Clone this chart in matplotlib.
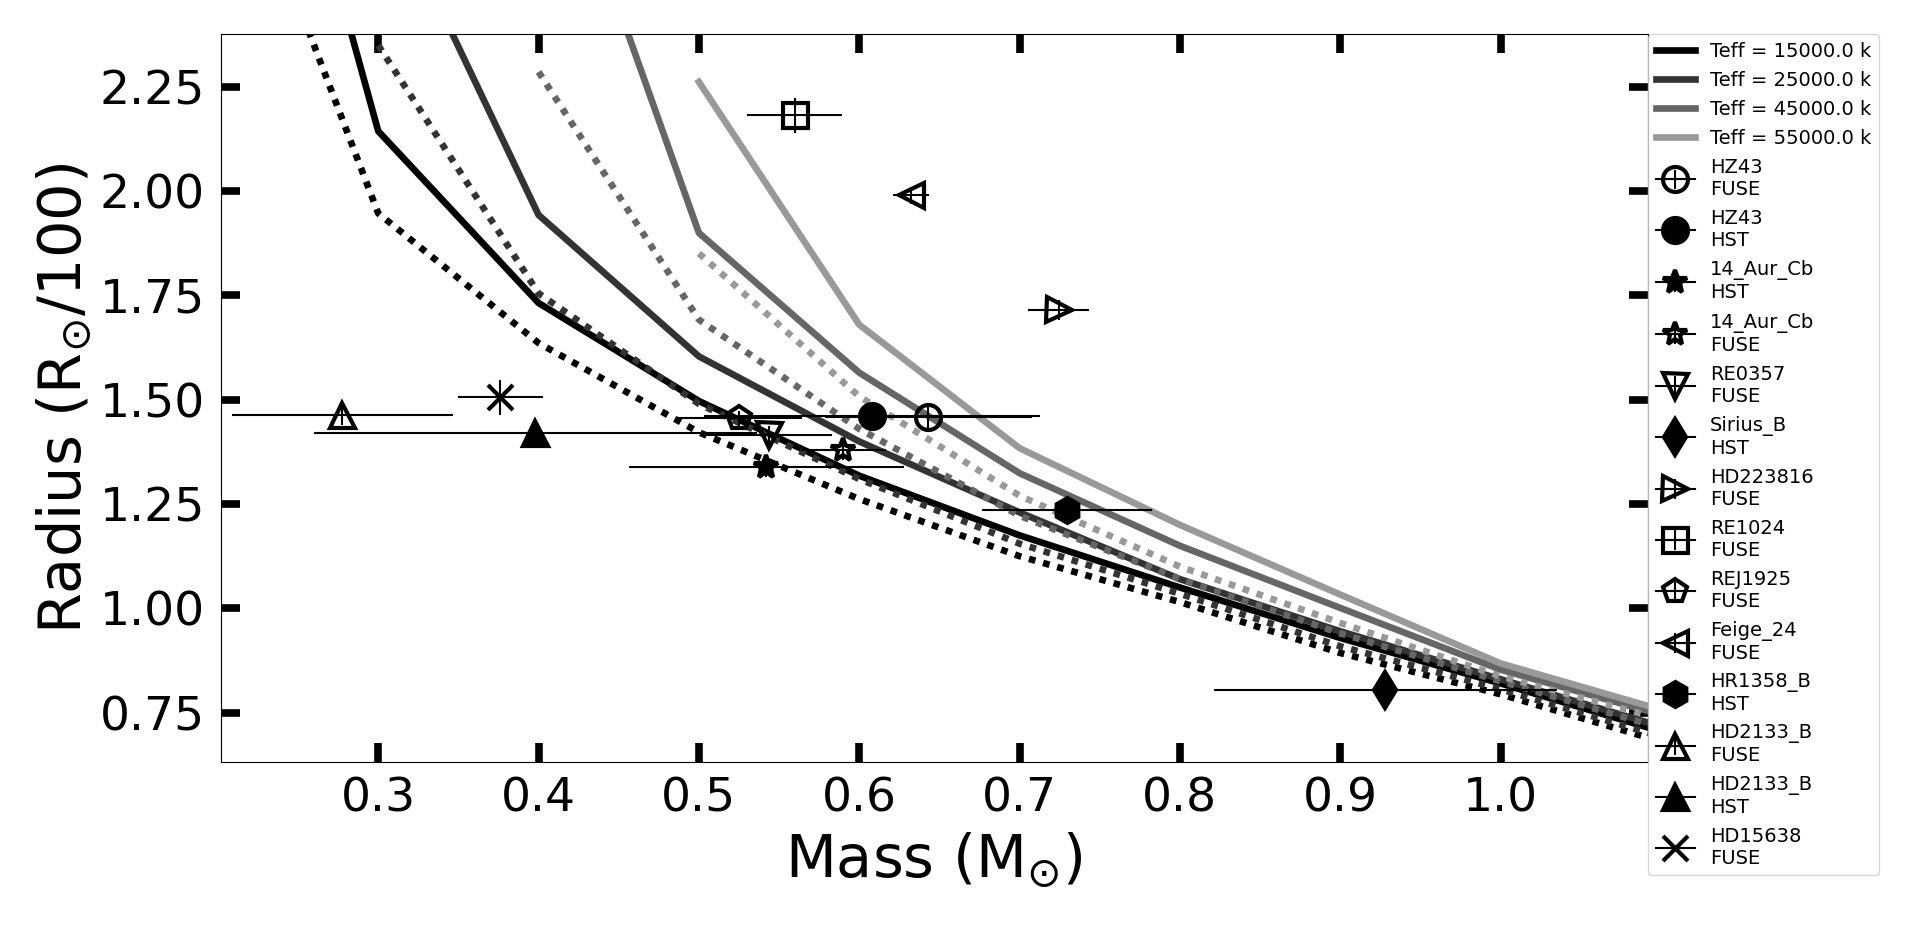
import numpy as np
import matplotlib
matplotlib.use('Agg')
import matplotlib.pyplot as plt

nan = np.nan

# ---- model mass-radius curves (mass in Msun, radius in Rsun/100) ----
mass_grid = [0.25, 0.3, 0.4, 0.5, 0.6, 0.7, 0.8, 0.9, 1.0, 1.1]
teff_values = [15000.0, 25000.0, 45000.0, 55000.0]

r15000_solid = [2.84, 2.144, 1.732, 1.497, 1.318, 1.175, 1.050, 0.929, 0.820, 0.705]
r25000_solid = [nan, 2.75, 1.943, 1.604, 1.400, 1.230, 1.070, 0.945, 0.830, 0.717]
r45000_solid = [nan, nan, 2.98, 1.900, 1.565, 1.324, 1.150, 1.001, 0.853, 0.745]
r55000_solid = [nan, nan, nan, 2.262, 1.680, 1.384, 1.200, 1.033, 0.868, 0.757]

r15000_dot = [2.45, 1.947, 1.636, 1.422, 1.262, 1.125, 1.015, 0.893, 0.794, 0.681]
r25000_dot = [nan, 2.35, 1.755, 1.490, 1.310, 1.155, 1.035, 0.909, 0.806, 0.693]
r45000_dot = [nan, nan, 2.286, 1.692, 1.430, 1.222, 1.070, 0.940, 0.825, 0.713]
r55000_dot = [nan, nan, nan, 1.851, 1.508, 1.270, 1.100, 0.965, 0.837, 0.735]

# ---- observed white dwarfs ----
star_names = ['HZ43', 'HZ43', '14_Aur_Cb', '14_Aur_Cb', 'RE0357', 'Sirius_B',
              'HD223816', 'RE1024', 'REJ1925', 'Feige_24', 'HR1358_B',
              'HD2133_B', 'HD2133_B', 'HD15638']
instruments = ['FUSE', 'HST', 'HST', 'FUSE', 'FUSE', 'HST', 'FUSE', 'FUSE',
               'FUSE', 'FUSE', 'HST', 'FUSE', 'HST', 'FUSE']
obs_mass = [0.643, 0.608, 0.542, 0.590, 0.5437, 0.928, 0.7243, 0.5598,
            0.5253, 0.6323, 0.7293, 0.2777, 0.398, 0.3762]
obs_mass_err = [0.0645, 0.105, 0.0857, 0.0265, 0.039, 0.107, 0.019, 0.0297,
                0.039, 0.011, 0.053, 0.069, 0.138, 0.0263]
obs_radius = [1.458, 1.461, 1.340, 1.379, 1.416, 0.804, 1.7155, 2.182,
              1.456, 1.990, 1.235, 1.464, 1.420, 1.5055]
obs_radius_err = [0.032, 0.030, 0.025, 0.024, 0.020, 0.020, 0.024, 0.042,
                  0.018, 0.020, 0.020, 0.024, 0.030, 0.041]
obs_markers = ['o', 'o', '*', '*', 'v', 'd', '>', 's', 'p', '<', 'h', '^', '^', 'x']
obs_filled = [False, True, True, False, False, True, False, False, False,
              False, True, False, True, True]

x_ticks = [0.3, 0.4, 0.5, 0.6, 0.7, 0.8, 0.9, 1.0]
y_ticks = [0.75, 1.00, 1.25, 1.50, 1.75, 2.00, 2.25]

fig = plt.figure(figsize=(19.18, 9.33), dpi=100)
ax = fig.add_axes([0.1152, 0.1830, 0.7440, 0.7806])

line_colors = ['0.0', '0.2', '0.4', '0.6']
solid_curves = [r15000_solid, r25000_solid, r45000_solid, r55000_solid]
dotted_curves = [r15000_dot, r25000_dot, r45000_dot, r55000_dot]
for teff, col, rs, rd in zip(teff_values, line_colors, solid_curves, dotted_curves):
    ax.plot(mass_grid, rs, color=col, lw=4.8, ls='-', label=f'Teff = {teff} k')
    ax.plot(mass_grid, rd, color=col, lw=4.8, ls=(0, (1, 1.2)))

for nm, ins, m, me, r, re_, mk, fl in zip(star_names, instruments, obs_mass,
                                          obs_mass_err, obs_radius, obs_radius_err,
                                          obs_markers, obs_filled):
    face = 'k' if fl else 'none'
    if mk == 'x':
        ax.errorbar([m], [r], xerr=[me], marker=mk, color='k', ms=18, mew=3,
                    mfc=face, mec='k', lw=1.5, elinewidth=1.5, capsize=0,
                    label=f'{nm}\n{ins}', zorder=5)
        ax.errorbar([m], [r], yerr=[re_], fmt='none', ecolor='k',
                    elinewidth=1.5, capsize=0, zorder=5)
    else:
        ax.errorbar([m], [r], xerr=[me], yerr=[re_], marker=mk, color='k',
                    ms=18, mew=3, mfc=face, mec='k', lw=1.5, elinewidth=1.5,
                    capsize=0, label=f'{nm}\n{ins}', zorder=5)

ax.set_xlim(0.2019, 1.0919)
ax.set_ylim(0.631, 2.377)
ax.set_xticks(x_ticks)
ax.set_yticks(y_ticks)
ax.tick_params(which='major', direction='in', length=14, width=5.5,
               top=True, right=True, labelsize=34)
ax.tick_params(axis='x', pad=10.5)
ax.tick_params(axis='y', pad=11.5)

ax.set_xlabel(r'Mass (M$_{\odot}$)', fontsize=42.5, labelpad=6)
ax.set_ylabel(r'Radius (R$_{\odot}$/100)', fontsize=42.5, labelpad=4)

ax.legend(loc='upper left', bbox_to_anchor=(1, 1), borderaxespad=0,
          fontsize=14, labelspacing=0.52)

fig.savefig('out.png', dpi=100)
